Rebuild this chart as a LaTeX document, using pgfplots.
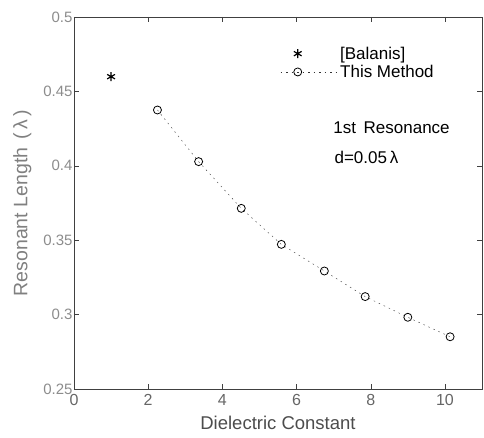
\documentclass[border=0pt]{standalone}
\usepackage{pgfplots}
\pgfplotsset{compat=1.18}
\usepackage{fontspec}
\setmainfont{Liberation Sans}
\pgfplotsset{
  legstar/.style={legend image code/.code={\path (0,0) (2.0cm,0);
    \draw[##1] plot coordinates {(0.6cm,0cm)};}},
  legline/.style={legend image code/.code={\draw[##1, mark repeat=2, mark phase=2]
    plot coordinates {(0cm,0cm) (0.6cm,0cm) (2.0cm,0cm)};}},
}
\begin{document}
\begin{tikzpicture}
\begin{axis}[
  scale only axis,
  width=408pt, height=372pt,
  xmin=0, xmax=11, ymin=0.25, ymax=0.5,
  xtick={0,2,4,6,8,10},
  ytick={0.25,0.3,0.35,0.4,0.45,0.5},
  yticklabels={0.25,0.3,0.35,0.4,0.45,0.5},
  tick align=inside,
  tick pos=both,
  major tick length=5pt,
  axis line style={black!75, line width=0.7pt},
  tick style={black!75},
  xticklabel style={font=\fontsize{16}{18}\selectfont, text=black!60, yshift=-2pt},
  yticklabel style={font=\fontsize{15}{17}\selectfont, text=black!45, xshift=2pt},
  /pgf/number format/assume math mode=true,
  xlabel={Dielectric Constant},
  ylabel={Resonant Length \,(\,λ\,)},
  xlabel style={font=\fontsize{18.5}{20}\selectfont, text=black!70, yshift=-3pt},
  ylabel style={font=\fontsize{19.5}{21}\selectfont, text=black!50, yshift=5pt},
  legend style={draw=none, fill=none, at={(axis cs:5.55,0.4815)}, anchor=north west,
    font=\fontsize{17}{19}\selectfont, row sep=0.5pt, inner sep=0pt},
  legend cell align=left,
]
\addplot[only marks, mark=asterisk, mark size=4.5pt, black, very thick, legstar]
  coordinates {(1.0,0.4599)};
\addlegendentry{[Balanis]}
\addplot[dash pattern=on 1.5pt off 4pt, black!80, mark=o, mark size=4pt,
  mark options={solid, black, line width=0.8pt}, legline]
  coordinates {
  (2.25,0.4375)
  (3.36,0.4028)
  (4.51,0.3714)
  (5.59,0.3472)
  (6.75,0.3293)
  (7.85,0.3121)
  (9.00,0.2982)
  (10.14,0.2851)
};
\addlegendentry{This Method}
\node[anchor=west, font=\fontsize{17}{19}\selectfont] at (axis cs:6.9,0.4255) {1st\, Resonance};
\node[anchor=west, font=\fontsize{17}{19}\selectfont] at (axis cs:6.93,0.4055) {d=0.05\,λ};
\end{axis}
\pgfresetboundingbox
\useasboundingbox (-74pt,-49pt) rectangle (410pt,389pt);
\end{tikzpicture}
\end{document}
